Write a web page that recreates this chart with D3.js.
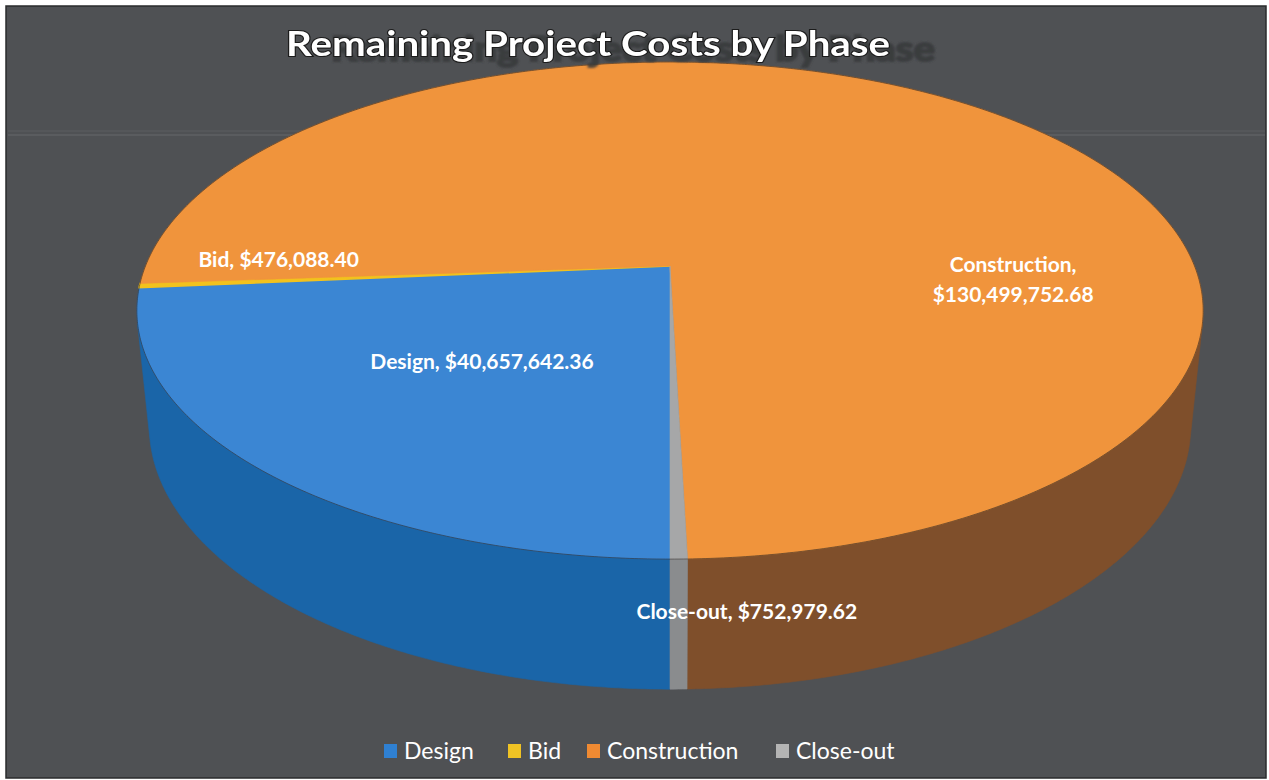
<!DOCTYPE html>
<html>
<head>
<meta charset="utf-8">
<script src="https://cdn.jsdelivr.net/npm/d3@7/dist/d3.min.js"></script>
<style>
  html, body { margin: 0; padding: 0; background: #ffffff; }
  svg { display: block; }
</style>
</head>
<body>
<svg id="chart" width="1269" height="780"></svg>
<script>
// ---------------- DATA ----------------
const title = "Remaining Project Costs by Phase";
const categories = ["Design", "Bid", "Construction", "Close-out"];
const values = [40657642.36, 476088.40, 130499752.68, 752979.62];

// ---------------- STYLE / LAYOUT ----------------
const topColors  = ["#3b86d3", "#f2c21e", "#f0943c", "#a6a7a8"];
const wallColors = ["#1a65a8", "#b08a10", "#7f4f2b", "#8a8c8e"];
const legendColors = ["#2f80d2", "#f0c324", "#f08a32", "#b4b4b4"];
// label anchors in pie space: [angle deg clockwise from 12, radius fraction, height]
const labelAnchors = [[222, 0.5, 0], [272, 0.75, 0], [95, 0.65, 0], [173, 1.0, -0.105]];
const labelTwoLine = [false, false, true, false];

const W = 1269, H = 780;
const svg = d3.select("#chart");

const defs = svg.append("defs");
const f = defs.append("filter").attr("id", "ghost")
  .attr("x", "-10%").attr("y", "-40%").attr("width", "130%").attr("height", "200%");
f.append("feOffset").attr("in", "SourceAlpha").attr("dx", 45).attr("dy", 5).attr("result", "off");
f.append("feGaussianBlur").attr("in", "off").attr("stdDeviation", 1).attr("result", "blur");
f.append("feFlood").attr("flood-color", "#37393b").attr("flood-opacity", 0.85).attr("result", "col");
f.append("feComposite").attr("in", "col").attr("in2", "blur").attr("operator", "in").attr("result", "sh");
const fm = f.append("feMerge");
fm.append("feMergeNode").attr("in", "sh");
fm.append("feMergeNode").attr("in", "SourceGraphic");

// background
svg.append("rect").attr("x", 0).attr("y", 0).attr("width", W).attr("height", H).attr("fill", "#ffffff");
svg.append("rect").attr("x", 6).attr("y", 6).attr("width", W - 9).attr("height", H - 8)
  .attr("fill", "#4f5154").attr("stroke", "#2a2b2c").attr("stroke-width", 1.5);
// faint scan lines
svg.append("line").attr("x1", 8).attr("x2", W - 4).attr("y1", 131).attr("y2", 131)
  .attr("stroke", "#5c5e61").attr("stroke-width", 1.2);
svg.append("line").attr("x1", 8).attr("x2", W - 4).attr("y1", 135).attr("y2", 135)
  .attr("stroke", "#5e6063").attr("stroke-width", 1.5);

// ---------------- 3D perspective pie ----------------
const cx = 670, cy = 266;
const elev = 27.3 * Math.PI / 180;
const se = Math.sin(elev), ce = Math.cos(elev);
const Dist = 4.957, Focal = 2600, thick = 0.25;

function proj(theta, r, z) {
  const x = r * Math.sin(theta), y = r * Math.cos(theta);
  const u = x, v = y * se + z * ce, w = y * ce - z * se;
  return [cx + Focal * u / (Dist + w), cy - Focal * v / (Dist + w)];
}

const pie = d3.pie().sort(null).value(d => d)
  .startAngle(Math.PI).endAngle(3 * Math.PI);
const arcs = pie(values);

function arcPts(a0, a1, r, z) {
  const n = Math.max(2, Math.ceil(Math.abs(a1 - a0) / (0.4 * Math.PI / 180)));
  const pts = [];
  for (let i = 0; i <= n; i++) pts.push(proj(a0 + (a1 - a0) * i / n, r, z));
  return pts;
}
const line = d3.line();

// visible wall range
const kVis = 1 / (Dist * ce);
const vMin = Math.acos(-kVis), vMax = 2 * Math.PI - Math.acos(-kVis);

const gWall = svg.append("g");
arcs.forEach((a, i) => {
  for (let k = 0; k <= 1; k++) {
    const lo = Math.max(a.startAngle, vMin + 2 * Math.PI * k);
    const hi = Math.min(a.endAngle, vMax + 2 * Math.PI * k);
    if (hi > lo) {
      const top = arcPts(lo, hi, 1, 0);
      const bot = arcPts(hi, lo, 1, -thick);
      gWall.append("path").attr("d", line(top.concat(bot)) + "Z")
        .attr("fill", wallColors[i]).attr("stroke", wallColors[i]).attr("stroke-width", 0.6);
    }
  }
});

const gTop = svg.append("g");
arcs.forEach((a, i) => {
  const pts = [proj(0, 0, 0)].concat(arcPts(a.startAngle, a.endAngle, 1, 0));
  gTop.append("path").attr("d", line(pts) + "Z")
    .attr("fill", topColors[i]).attr("stroke", topColors[i]).attr("stroke-width", i === 1 ? 1.6 : 0.6);
});
// outline of top rim
svg.append("path").attr("d", line(arcPts(0, 2 * Math.PI, 1, 0)) + "Z")
  .attr("fill", "none").attr("stroke", "#2c2520").attr("stroke-width", 1).attr("opacity", 0.55);

// ---------------- labels ----------------
const money = d3.format("$,.2f");
const gLab = svg.append("g").attr("font-family", "Lato, 'Open Sans', sans-serif")
  .attr("font-weight", "bold").attr("font-size", 21).attr("fill", "#ffffff").attr("text-anchor", "middle");
arcs.forEach((a, i) => {
  const an = labelAnchors[i];
  const p = proj(an[0] * Math.PI / 180, an[1], an[2]);
  const t = gLab.append("text").attr("x", p[0]).attr("y", p[1]);
  if (labelTwoLine[i]) {
    t.append("tspan").attr("x", p[0]).attr("dy", "-0.35em").text(categories[i] + ",");
    t.append("tspan").attr("x", p[0]).attr("dy", "1.4em").text(money(values[i]));
  } else {
    t.attr("dy", "0.35em").text(categories[i] + ", " + money(values[i]));
  }
});

// ---------------- title ----------------
svg.append("text").attr("x", 286).attr("y", 56)
  .attr("font-family", "Lato, sans-serif").attr("font-weight", "bold").attr("font-size", 35)
  .attr("textLength", 604).attr("lengthAdjust", "spacingAndGlyphs")
  .attr("fill", "#ffffff").attr("stroke", "#1c1c1c").attr("stroke-width", 2.2)
  .attr("paint-order", "stroke").attr("filter", "url(#ghost)").text(title);

// ---------------- legend ----------------
const legendX = [384, 508, 587, 776];
const gLeg = svg.append("g").attr("font-family", "Lato, sans-serif").attr("font-size", 23).attr("fill", "#ffffff");
categories.forEach((c, i) => {
  gLeg.append("rect").attr("x", legendX[i]).attr("y", 744).attr("width", 13).attr("height", 14)
    .attr("fill", legendColors[i]);
  gLeg.append("text").attr("x", legendX[i] + 20).attr("y", 759).text(c);
});
</script>
</body>
</html>
